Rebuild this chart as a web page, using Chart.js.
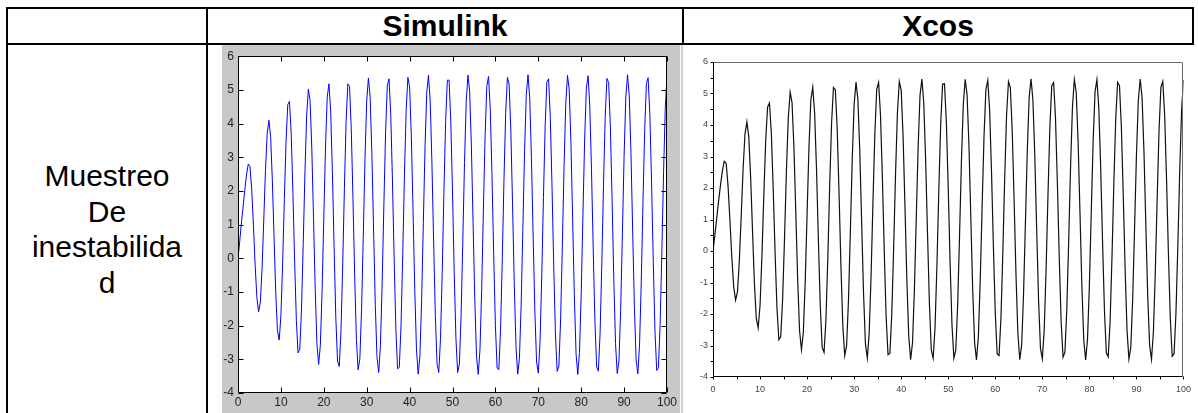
<!DOCTYPE html>
<html>
<head>
<meta charset="utf-8">
<script src="https://cdn.jsdelivr.net/npm/chart.js@4.4.1/dist/chart.umd.min.js"></script>
<style>
  html, body { margin: 0; padding: 0; background: #fff; }
  body { width: 1198px; height: 413px; position: relative; overflow: hidden;
         font-family: "Liberation Sans", Arial, sans-serif; color: #000; }
  .linea { position: absolute; background: #000; }
  .cabecera { position: absolute; top: 8px; height: 35px; line-height: 35px; text-align: center;
              font-weight: bold; font-size: 30px; }
  #rotulo { position: absolute; left: 8px; width: 198px; top: 158px; text-align: center;
            font-size: 30px; line-height: 35.5px; }
  #cajaSimulink { position: absolute; left: 222px; top: 45px; width: 458px; height: 368px; }
  #cajaXcos { position: absolute; left: 683px; top: 46px; width: 515px; height: 367px; }
  #bordeXcos { position: absolute; left: 681px; top: 45px; width: 2px; height: 368px; background: #d0d0d0; }
</style>
</head>
<body>
  <!-- table rules -->
  <div class="linea" style="left:6px;top:7px;width:1188px;height:2px"></div>
  <div class="linea" style="left:6px;top:43px;width:1188px;height:2px"></div>
  <div class="linea" style="left:6px;top:7px;width:2px;height:406px"></div>
  <div class="linea" style="left:206px;top:7px;width:2px;height:406px"></div>
  <div class="linea" style="left:682px;top:7px;width:2px;height:38px"></div>
  <div class="linea" style="left:1192px;top:7px;width:2px;height:38px"></div>

  <div class="cabecera" style="left:208px;width:474px">Simulink</div>
  <div class="cabecera" style="left:684px;width:508px">Xcos</div>
  <div id="rotulo">Muestreo<br>De<br>inestabilida<br>d</div>

  <div id="cajaSimulink"><canvas id="graficaSimulink" width="458" height="368"></canvas></div>
  <div id="bordeXcos"></div>
  <div id="cajaXcos"><canvas id="graficaXcos" width="515" height="367"></canvas></div>

<script>
// Sample period of the recorded output (seconds)
const pasoMuestreo = 0.4;

// Axis ranges shared by both plots
const rangoTiempo = [0, 100];
const rangoSalida = [-4, 6];

// Output recorded in Simulink, one value per sample
const salidaSimulink = [
  0, 0.5, 1.05, 1.55, 2.05, 2.5, 2.8,
  2.72, 2.04, 0.96, -0.22, -1.16, -1.59, -1.32, -0.33, 1.12, 2.61, 3.70,
  4.10, 3.62, 2.34, 0.63, -1.03, -2.15, -2.43, -1.71, -0.17, 1.74, 3.48, 4.56,
  4.66, 3.71, 1.95, -0.09, -1.84, -2.81, -2.70, -1.51, 0.41, 2.53, 4.23, 5.02,
  4.69, 3.28, 1.21, -0.94, -2.54, -3.15, -2.57, -0.97, 1.20, 3.33, 4.79,
  5.18, 4.37, 2.58, 0.33, -1.75, -3.05, -3.21, -2.18, -0.23, 2.07, 4.06, 5.18,
  5.10, 3.85, 1.77, -0.53, -2.41, -3.31, -2.99, -1.53, 0.65, 2.94, 4.67, 5.35,
  4.79, 3.14, 0.87, -1.37, -2.94, -3.39, -2.59, -0.76, 1.57, 3.73, 5.12,
  5.33, 4.30, 2.32, -0.03, -2.10, -3.28, -3.24, -1.99, 0.11, 2.47, 4.41, 5.37,
  5.09, 3.63, 1.42, -0.91, -2.70, -3.44, -2.91, -1.26, 1.03, 3.31, 4.93,
  5.44, 4.67, 2.85, 0.51, -1.70, -3.14, -3.39, -2.39, -0.42, 1.96, 4.06, 5.29,
  5.29, 4.07, 1.97, -0.41, -2.38, -3.39, -3.14, -1.71, 0.49, 2.84, 4.66, 5.44,
  4.95, 3.33, 1.04, -1.25, -2.91, -3.45, -2.72, -0.92, 1.42, 3.64, 5.11,
  5.40, 4.44, 2.49, 0.12, -2.00, -3.26, -3.31, -2.12, -0.05, 2.33, 4.33, 5.37,
  5.17, 3.78, 1.59, -0.77, -2.62, -3.44, -2.98, -1.39, 0.88, 3.19, 4.87,
  5.45, 4.76, 2.99, 0.66, -1.58, -3.08, -3.41, -2.49, -0.56, 1.80, 3.94, 5.24,
  5.33, 4.18, 2.12, -0.25, -2.28, -3.36, -3.20, -1.83, 0.33, 2.70, 4.58, 5.43,
  5.02, 3.46, 1.20, -1.12, -2.83, -3.45, -2.80, -1.06, 1.26, 3.51, 5.05,
  5.42, 4.53, 2.63, 0.27, -1.89, -3.22, -3.35, -2.24, -0.20, 2.18, 4.22, 5.34,
  5.22, 3.90, 1.74, -0.62, -2.53, -3.42, -3.05, -1.52, 0.72, 3.05, 4.79, 5.45,
  4.84, 3.13, 0.81, -1.45, -3.01, -3.43, -2.58, -0.71, 1.65, 3.83, 5.19,
  5.36, 4.28, 2.27, -0.11, -2.17, -3.33, -3.25, -1.95, 0.18, 2.55, 4.48, 5.41
];

// Output recorded in Xcos, one value per sample
const salidaXcos = [
  0, 0.5, 1.05, 1.6, 2.1, 2.55, 2.85,
  2.78, 2.06, 0.98, -0.20, -1.14, -1.56, -1.30, -0.31, 1.13, 2.62, 3.71,
  4.10, 3.63, 2.35, 0.64, -1.02, -2.14, -2.44, -1.72, -0.16, 1.75, 3.49, 4.57,
  4.70, 3.74, 1.96, -0.08, -1.83, -2.82, -2.72, -1.52, 0.40, 2.52, 4.22, 5.04,
  4.71, 3.30, 1.22, -0.93, -2.53, -3.13, -2.58, -0.98, 1.19, 3.32, 4.80,
  5.20, 4.39, 2.60, 0.34, -1.74, -3.06, -3.22, -2.19, -0.24, 2.06, 4.05, 5.19,
  5.12, 3.87, 1.78, -0.52, -2.40, -3.32, -3.00, -1.54, 0.64, 2.93, 4.66, 5.36,
  4.81, 3.16, 0.88, -1.36, -2.95, -3.40, -2.60, -0.77, 1.56, 3.72, 5.13,
  5.35, 4.32, 2.33, -0.02, -2.09, -3.29, -3.25, -2.00, 0.10, 2.46, 4.40, 5.38,
  5.11, 3.65, 1.43, -0.90, -2.69, -3.45, -2.92, -1.27, 1.02, 3.30, 4.94,
  5.46, 4.69, 2.86, 0.52, -1.69, -3.15, -3.40, -2.40, -0.43, 1.95, 4.05, 5.30,
  5.31, 4.09, 1.98, -0.40, -2.37, -3.40, -3.15, -1.72, 0.48, 2.83, 4.65, 5.45,
  4.97, 3.35, 1.05, -1.24, -2.90, -3.46, -2.73, -0.93, 1.41, 3.63, 5.12,
  5.42, 4.46, 2.50, 0.13, -1.99, -3.27, -3.32, -2.13, -0.06, 2.32, 4.32, 5.38,
  5.19, 3.80, 1.60, -0.76, -2.61, -3.45, -2.99, -1.40, 0.87, 3.18, 4.88,
  5.47, 4.78, 3.00, 0.67, -1.57, -3.09, -3.42, -2.50, -0.57, 1.79, 3.93, 5.25,
  5.35, 4.20, 2.13, -0.24, -2.27, -3.37, -3.21, -1.84, 0.32, 2.69, 4.57, 5.44,
  5.04, 3.48, 1.21, -1.11, -2.82, -3.46, -2.81, -1.07, 1.25, 3.50, 5.06,
  5.44, 4.55, 2.64, 0.28, -1.88, -3.23, -3.36, -2.25, -0.21, 2.17, 4.21, 5.35,
  5.24, 3.92, 1.75, -0.61, -2.52, -3.43, -3.06, -1.53, 0.71, 3.04, 4.78, 5.46,
  4.86, 3.15, 0.82, -1.44, -3.00, -3.44, -2.59, -0.72, 1.64, 3.82, 5.20,
  5.38, 4.30, 2.28, -0.10, -2.16, -3.34, -3.26, -1.96, 0.17, 2.54, 4.47, 5.43
];

const familia = '"Liberation Sans", Arial, sans-serif';

function puntos(valores) {
  return valores.map((v, i) => ({ x: i * pasoMuestreo, y: v }));
}

// Simulink scope look: grey surround, white plot area, boxed axes with inward ticks
const marcoSimulink = {
  id: 'marcoSimulink',
  beforeDraw(chart) {
    const { ctx, chartArea: a } = chart;
    ctx.save();
    ctx.fillStyle = '#c8c8c8';
    ctx.fillRect(0, 0, chart.width, chart.height);
    ctx.fillStyle = '#ffffff';
    ctx.fillRect(a.left, a.top, a.right - a.left, a.bottom - a.top);
    ctx.restore();
  },
  afterDraw(chart) {
    const { ctx, chartArea: a, scales: { x, y } } = chart;
    const L = Math.round(a.left) + 0.5, R = Math.round(a.right) - 0.5;
    const T = Math.round(a.top) + 0.5, B = Math.round(a.bottom) - 0.5;
    ctx.save();
    ctx.strokeStyle = '#000';
    ctx.lineWidth = 1;
    ctx.beginPath();
    ctx.rect(L, T, R - L, B - T);
    x.ticks.forEach(t => {
      const px = Math.round(x.getPixelForValue(t.value)) + 0.5;
      ctx.moveTo(px, B); ctx.lineTo(px, B - 5);
      ctx.moveTo(px, T); ctx.lineTo(px, T + 5);
    });
    y.ticks.forEach(t => {
      const py = Math.round(y.getPixelForValue(t.value)) + 0.5;
      ctx.moveTo(L, py); ctx.lineTo(L + 5, py);
      ctx.moveTo(R, py); ctx.lineTo(R - 5, py);
    });
    ctx.stroke();
    ctx.restore();
  }
};

// Xcos graphic window look: black left/bottom axes with outward ticks, grey box on top/right
const marcoXcos = {
  id: 'marcoXcos',
  afterDraw(chart) {
    const { ctx, chartArea: a, scales: { x, y } } = chart;
    const L = Math.round(a.left) + 0.5, R = Math.round(a.right) - 0.5;
    const T = Math.round(a.top) + 0.5, B = Math.round(a.bottom) - 0.5;
    ctx.save();
    ctx.lineWidth = 1;
    ctx.strokeStyle = '#6a6a6a';
    ctx.beginPath();
    ctx.moveTo(L, T); ctx.lineTo(R, T); ctx.lineTo(R, B);
    ctx.stroke();
    ctx.strokeStyle = '#000';
    ctx.beginPath();
    ctx.moveTo(L, T); ctx.lineTo(L, B); ctx.lineTo(R, B);
    x.ticks.forEach(t => {
      const px = Math.round(x.getPixelForValue(t.value)) + 0.5;
      ctx.moveTo(px, B); ctx.lineTo(px, B + 3);
    });
    y.ticks.forEach(t => {
      const py = Math.round(y.getPixelForValue(t.value)) + 0.5;
      ctx.moveTo(L, py); ctx.lineTo(L - 3, py);
    });
    ctx.stroke();
    ctx.restore();
  }
};

const sinEjes = { display: false, drawTicks: false };
const comunes = {
  responsive: false,
  animation: false,
  devicePixelRatio: 1,
  events: [],
  plugins: { legend: { display: false }, tooltip: { enabled: false } }
};

new Chart(document.getElementById('graficaSimulink'), {
  type: 'line',
  data: {
    datasets: [{
      data: puntos(salidaSimulink),
      borderColor: '#0000ff',
      borderWidth: 1,
      pointRadius: 0,
      tension: 0,
      fill: false
    }]
  },
  options: {
    ...comunes,
    layout: { autoPadding: false, padding: { top: 10, right: 13, left: 0, bottom: 0 } },
    scales: {
      x: {
        type: 'linear', min: rangoTiempo[0], max: rangoTiempo[1],
        grid: sinEjes, border: { display: false },
        ticks: { stepSize: 10, autoSkip: false, maxRotation: 0, padding: 2,
                 color: '#222', font: { family: familia, size: 12 } },
        afterFit: s => { s.height = 20; }
      },
      y: {
        type: 'linear', min: rangoSalida[0], max: rangoSalida[1],
        grid: sinEjes, border: { display: false },
        ticks: { stepSize: 1, autoSkip: false, padding: 4,
                 color: '#222', font: { family: familia, size: 12 } },
        afterFit: s => { s.width = 16; }
      }
    }
  },
  plugins: [marcoSimulink]
});

new Chart(document.getElementById('graficaXcos'), {
  type: 'line',
  data: {
    datasets: [{
      data: puntos(salidaXcos),
      borderColor: '#111111',
      borderWidth: 1.2,
      pointRadius: 0,
      tension: 0,
      fill: false
    }]
  },
  options: {
    ...comunes,
    layout: { autoPadding: false, padding: { top: 16, right: 14, left: 0, bottom: 0 } },
    scales: {
      x: {
        type: 'linear', min: rangoTiempo[0], max: rangoTiempo[1],
        grid: sinEjes, border: { display: false },
        ticks: { stepSize: 5, autoSkip: false, maxRotation: 0, padding: 7,
                 color: '#444', font: { family: familia, size: 9 },
                 callback: v => (v % 10 === 0 ? v : '') },
        afterFit: s => { s.height = 36; }
      },
      y: {
        type: 'linear', min: rangoSalida[0], max: rangoSalida[1],
        grid: sinEjes, border: { display: false },
        ticks: { stepSize: 0.5, autoSkip: false, padding: 5,
                 color: '#444', font: { family: familia, size: 9 },
                 callback: v => (Number.isInteger(v) ? v : '') },
        afterFit: s => { s.width = 30; }
      }
    }
  },
  plugins: [marcoXcos]
});
</script>
</body>
</html>
